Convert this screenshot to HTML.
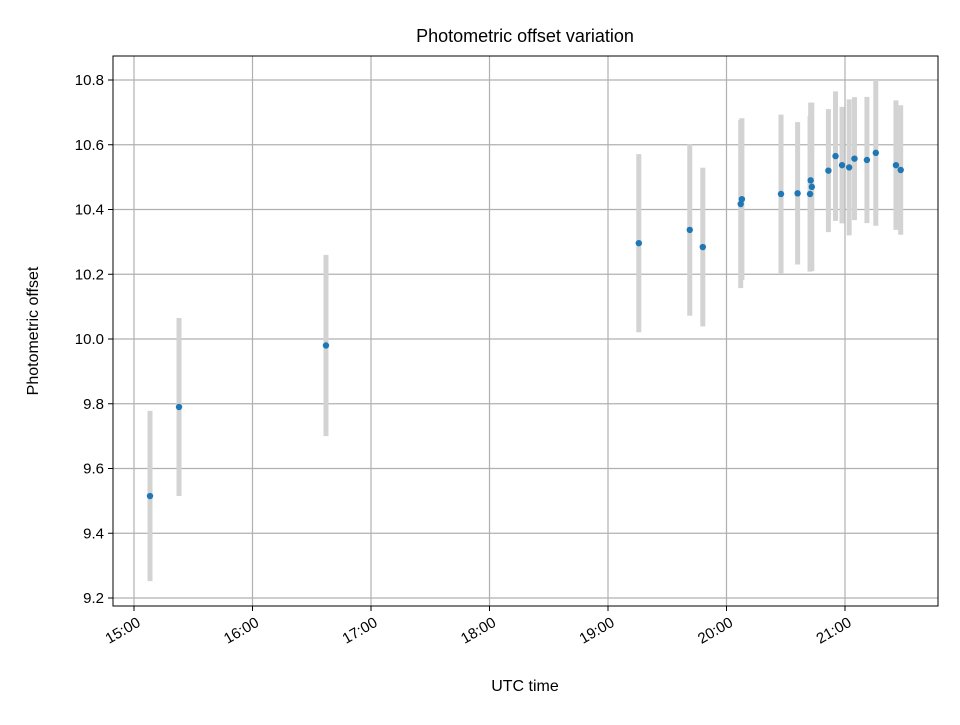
<!DOCTYPE html>
<html><head><meta charset="utf-8"><style>body{margin:0;background:#fff}svg{font-family:"Liberation Sans","DejaVu Sans",sans-serif}</style></head>
<body>
<svg id="chart" width="960" height="720" xmlns="http://www.w3.org/2000/svg"></svg>
<script>
const times=[15.135,15.38,16.62,19.26,19.69,19.8,20.12,20.13,20.46,20.6,20.705,20.72,20.71,20.86,20.92,20.975,21.035,21.08,21.185,21.26,21.43,21.47];
const values=[9.515,9.79,9.98,10.296,10.337,10.284,10.417,10.432,10.448,10.45,10.448,10.47,10.49,10.52,10.565,10.537,10.53,10.557,10.553,10.575,10.537,10.522];
const errors=[0.263,0.275,0.28,0.275,0.265,0.245,0.26,0.25,0.245,0.22,0.24,0.26,0.24,0.19,0.2,0.18,0.21,0.19,0.195,0.225,0.2,0.2];
const xTicks=[15,16,17,18,19,20,21];
const xTickLabels=["15:00","16:00","17:00","18:00","19:00","20:00","21:00"];
const yTicks=[9.2,9.4,9.6,9.8,10.0,10.2,10.4,10.6,10.8];
const yTickLabels=["9.2","9.4","9.6","9.8","10.0","10.2","10.4","10.6","10.8"];
const L=113,R=938,T=56,B=606;
const xS=h=>134+(h-15)*118.5;
const yS=v=>80+(10.8-v)*323.75;
const svg=document.getElementById('chart');
const NS='http://www.w3.org/2000/svg';
function mk(tag,attrs,parent){const e=document.createElementNS(NS,tag);for(const k in attrs)e.setAttribute(k,attrs[k]);(parent||svg).appendChild(e);return e;}
const grid=mk('g',{});


xTicks.forEach((t,i)=>{const x=xS(t);
 mk('line',{x1:x,x2:x,y1:T,y2:B,stroke:'#b0b0b0','stroke-width':1.2},grid);
 mk('line',{x1:x,x2:x,y1:B,y2:B+5,stroke:'#000'});
 const ax=x+5, ay=B+20;
 const tx=mk('text',{x:ax,y:ay,'font-size':15,'text-anchor':'end',transform:`rotate(-30 ${ax} ${ay-5})`});
 
 
 tx.textContent=xTickLabels[i];});
yTicks.forEach((t,i)=>{const y=yS(t);
 mk('line',{x1:L,x2:R,y1:y,y2:y,stroke:'#b0b0b0','stroke-width':1.2},grid);
 mk('line',{x1:L-5,x2:L,y1:y,y2:y,stroke:'#000'});
 const tx=mk('text',{x:L-9,y:y+5,'font-size':15,'text-anchor':'end'});
 
 
 tx.textContent=yTickLabels[i];});
const eb=mk('g',{});


times.forEach((t,i)=>{const l=mk('line',{x1:xS(t),x2:xS(t),y1:yS(values[i]+errors[i]),y2:yS(values[i]-errors[i]),stroke:'#d3d3d3','stroke-width':5},eb);
 
 });
const pts=mk('g',{});


times.forEach((t,i)=>{const c=mk('circle',{cx:xS(t),cy:yS(values[i]),r:3.2,fill:'#1f77b4'},pts);
 
 });
const fr=mk('rect',{x:L,y:T,width:R-L,height:B-T,fill:'none',stroke:'#000','stroke-width':1});


const title=mk('text',{x:525,y:42,'font-size':18,'text-anchor':'middle'});


title.textContent='Photometric offset variation';
const xl=mk('text',{x:525,y:691,'font-size':16,'text-anchor':'middle'});


xl.textContent='UTC time';
const yl=mk('text',{x:38,y:331,'font-size':16,'text-anchor':'middle',transform:'rotate(-90 38 331)'});


yl.textContent='Photometric offset';
</script>
</body></html>
